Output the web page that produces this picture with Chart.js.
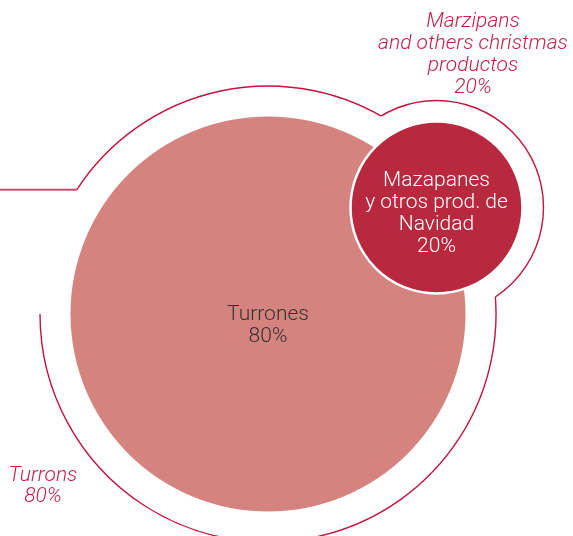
<!DOCTYPE html>
<html>
<head>
<meta charset="utf-8">
<script src="https://cdn.jsdelivr.net/npm/chart.js@4.4.0/dist/chart.umd.min.js"></script>
<style>
  html, body { margin: 0; padding: 0; background: #fff; }
  #chart { display: block; }
</style>
</head>
<body>
<canvas id="chart" width="573" height="536"></canvas>
<script>
// categories and shares
const categories = ['Turrones', 'Mazapanes\ny otros prod. de\nNavidad'];
const englishLabels = ['Turrons', 'Marzipans\nand others christmas\nproductos'];
const shares = [80, 20];

// where each bubble sits (chart units) and how large it is
const bubbleX = [268, 436.5];
const bubbleY = [314, 207.5];
const bubbleR = [197.5, 86];
const ringGap = [30.5, 21];

const fills = ['#d4837e', '#b8293f'];
const lineColor = '#c2143f';
const textRed = '#c41e4a';
const fontFamily = 'Roboto, "Liberation Sans", sans-serif';

// bubbles are placed on a full-canvas scale, no extra padding for their radius
Chart.BubbleController.prototype.getMaxOverflow = function () { return 0; };

// outline drawn around the two bubbles + the label texts
const ringPlugin = {
    id: 'ringPlugin',
    beforeDatasetsDraw(chart) {
        const ctx = chart.ctx;
        const pts = chart.getDatasetMeta(0).data;
        const rings = pts.map((p, i) => ({ x: p.x, y: p.y, r: bubbleR[i] + ringGap[i] }));
        ctx.save();
        ctx.strokeStyle = lineColor;
        ctx.lineWidth = 1.4;

        // big ring, skipping where the small ring is
        ctx.save();
        ctx.beginPath();
        ctx.rect(0, 0, chart.width, chart.height);
        ctx.arc(rings[1].x, rings[1].y, rings[1].r, 0, Math.PI * 2);
        ctx.clip('evenodd');
        ctx.beginPath();
        const start = Math.PI + Math.atan2(124, 191);
        ctx.arc(rings[0].x, rings[0].y, rings[0].r, start, Math.PI * 3);
        ctx.stroke();
        ctx.restore();

        // small ring, skipping the part inside the big ring
        ctx.save();
        ctx.beginPath();
        ctx.rect(0, 0, chart.width, chart.height);
        ctx.arc(rings[0].x, rings[0].y, rings[0].r, 0, Math.PI * 2);
        ctx.clip('evenodd');
        ctx.beginPath();
        ctx.arc(rings[1].x, rings[1].y, rings[1].r, 0, Math.PI * 2);
        ctx.stroke();
        ctx.restore();

        // leader line on the left
        const ex = rings[0].x + rings[0].r * Math.cos(start);
        const ey = rings[0].y + rings[0].r * Math.sin(start);
        ctx.strokeStyle = '#d04a70';
        ctx.lineWidth = 2;
        ctx.beginPath();
        ctx.moveTo(0, ey);
        ctx.lineTo(ex, ey);
        ctx.stroke();
        ctx.restore();
    },
    afterDatasetsDraw(chart) {
        const ctx = chart.ctx;
        const pts = chart.getDatasetMeta(0).data;
        ctx.save();
        ctx.textAlign = 'center';
        ctx.textBaseline = 'middle';
        ctx.font = '300 21px ' + fontFamily;

        // labels inside the bubbles
        const inside = [
            { lines: [categories[0], shares[0] + '%'], color: '#333333', dy: 1 },
            { lines: categories[1].split('\n').concat(shares[1] + '%'), color: '#ffffff', dy: -27 }
        ];
        inside.forEach((lab, i) => {
            ctx.fillStyle = lab.color;
            lab.lines.forEach((t, j) => ctx.fillText(t, pts[i].x, pts[i].y + lab.dy + j * 22));
        });

        // english labels outside
        ctx.font = 'italic 300 21px ' + fontFamily;
        ctx.fillStyle = textRed;
        const top = englishLabels[1].split('\n').concat(shares[1] + '%');
        top.forEach((t, j) => ctx.fillText(t, 473, 22 + j * 22));
        const low = englishLabels[0].split('\n').concat(shares[0] + '%');
        low.forEach((t, j) => ctx.fillText(t, 43, 476 + j * 21));
        ctx.restore();
    }
};

const data = {
    datasets: [{
        data: shares.map((v, i) => ({ x: bubbleX[i], y: bubbleY[i], r: bubbleR[i], v: v })),
        backgroundColor: fills,
        borderColor: ['rgba(0,0,0,0)', '#ffffff'],
        borderWidth: [0, 2.5],
        hoverRadius: 0
    }]
};

new Chart(document.getElementById('chart'), {
    type: 'bubble',
    data: data,
    options: {
        responsive: false,
        animation: false,
        events: [],
        layout: { padding: 0 },
        clip: false,
        plugins: {
            legend: { display: false },
            tooltip: { enabled: false }
        },
        scales: {
            x: { type: 'linear', min: 0, max: 573, display: false },
            y: { type: 'linear', min: 0, max: 536, reverse: true, display: false }
        }
    },
    plugins: [ringPlugin]
});
</script>
</body>
</html>
